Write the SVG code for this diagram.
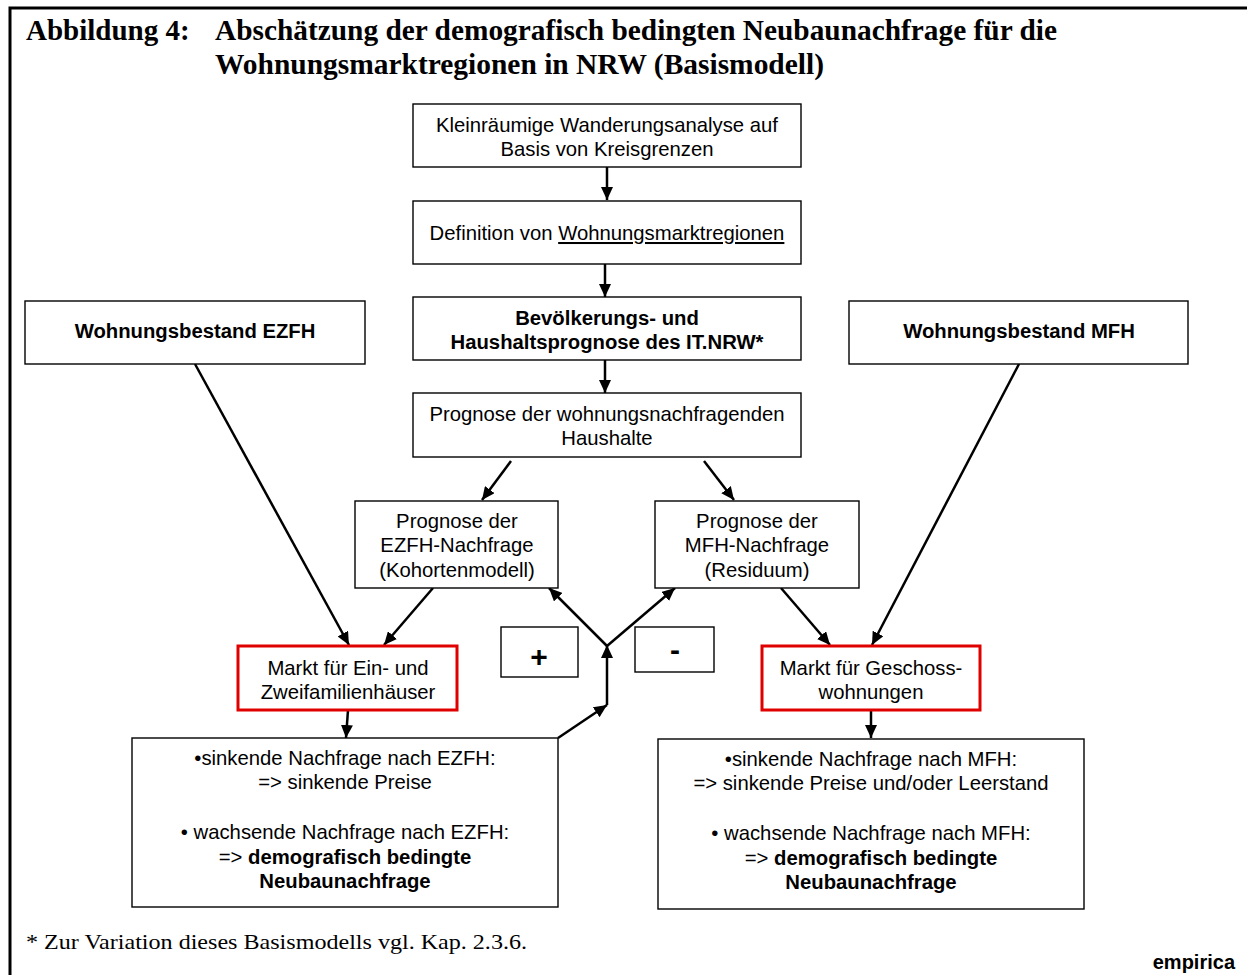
<svg xmlns="http://www.w3.org/2000/svg" width="1247" height="975" viewBox="0 0 1247 975">
<defs>
<marker id="ah" markerUnits="userSpaceOnUse" markerWidth="14" markerHeight="12" refX="13" refY="6" orient="auto">
<path d="M0,0 L13,6 L0,12 Z" fill="#000"/>
</marker>
</defs>
<style>
.box{fill:#fff;stroke:#000;stroke-width:1.4}
.red{fill:#fff;stroke:#e00000;stroke-width:3}
.t{font-family:"Liberation Sans",Arial,sans-serif;font-size:20.3px;fill:#000;text-anchor:middle}
.b{font-weight:bold}
.title{font-family:"Liberation Serif","Times New Roman",serif;font-size:29px;font-weight:bold;fill:#000}
.c{fill:none;stroke:#000;stroke-width:2.5}
</style>
<rect width="1247" height="975" fill="#fff"/>
<path d="M10,975 V8 H1247" fill="none" stroke="#000" stroke-width="3"/>
<g id="title">
<text class="title" x="26" y="40">Abbildung 4:</text>
<text class="title" x="215" y="40" textLength="842" lengthAdjust="spacingAndGlyphs">Abschätzung der demografisch bedingten Neubaunachfrage für die</text>
<text class="title" x="215" y="74" textLength="609" lengthAdjust="spacingAndGlyphs">Wohnungsmarktregionen in NRW (Basismodell)</text>
</g>
<g id="connectors">
<line class="c" x1="607" y1="167" x2="607" y2="200" marker-end="url(#ah)"/>
<line class="c" x1="605" y1="264" x2="605" y2="297" marker-end="url(#ah)"/>
<line class="c" x1="605" y1="360" x2="605" y2="393" marker-end="url(#ah)"/>
<line class="c" x1="511" y1="461" x2="482" y2="500" marker-end="url(#ah)"/>
<line class="c" x1="704" y1="461" x2="734" y2="500" marker-end="url(#ah)"/>
<line class="c" x1="195" y1="364" x2="349" y2="645" marker-end="url(#ah)"/>
<line class="c" x1="433" y1="588" x2="384" y2="645" marker-end="url(#ah)"/>
<line class="c" x1="1019" y1="364" x2="872" y2="645" marker-end="url(#ah)"/>
<line class="c" x1="781" y1="588" x2="830" y2="645" marker-end="url(#ah)"/>
<line class="c" x1="348" y1="710" x2="346" y2="738" marker-end="url(#ah)"/>
<line class="c" x1="871" y1="710" x2="871" y2="738" marker-end="url(#ah)"/>
<line class="c" x1="558" y1="738" x2="607" y2="705" marker-end="url(#ah)"/>
<line class="c" x1="607" y1="705" x2="607" y2="645" marker-end="url(#ah)"/>
<line class="c" x1="607" y1="646" x2="549" y2="588" marker-end="url(#ah)"/>
<line class="c" x1="607" y1="646" x2="675" y2="588" marker-end="url(#ah)"/>
</g>
<g id="n1">
<rect class="box" x="413" y="104" width="388" height="63"/>
<text class="t" x="607" y="132">Kleinräumige Wanderungsanalyse auf</text>
<text class="t" x="607" y="156">Basis von Kreisgrenzen</text>
</g>
<g id="n2">
<rect class="box" x="413" y="201" width="388" height="63"/>
<text class="t" x="607" y="240">Definition von <tspan text-decoration="underline">Wohnungsmarktregionen</tspan></text>
</g>
<g id="n3">
<rect class="box" x="413" y="297" width="388" height="63"/>
<text class="t b" x="607" y="325">Bevölkerungs- und</text>
<text class="t b" x="607" y="349">Haushaltsprognose des IT.NRW*</text>
</g>
<g id="n4">
<rect class="box" x="413" y="393" width="388" height="64"/>
<text class="t" x="607" y="421">Prognose der wohnungsnachfragenden</text>
<text class="t" x="607" y="445">Haushalte</text>
</g>
<g id="n5">
<rect class="box" x="25" y="301" width="340" height="63"/>
<text class="t b" x="195" y="338">Wohnungsbestand EZFH</text>
</g>
<g id="n6">
<rect class="box" x="849" y="301" width="339" height="63"/>
<text class="t b" x="1019" y="338">Wohnungsbestand MFH</text>
</g>
<g id="n7">
<rect class="box" x="355" y="501" width="203" height="87"/>
<text class="t" x="457" y="528">Prognose der</text>
<text class="t" x="457" y="552">EZFH-Nachfrage</text>
<text class="t" x="457" y="577">(Kohortenmodell)</text>
</g>
<g id="n8">
<rect class="box" x="655" y="501" width="204" height="87"/>
<text class="t" x="757" y="528">Prognose der</text>
<text class="t" x="757" y="552">MFH-Nachfrage</text>
<text class="t" x="757" y="577">(Residuum)</text>
</g>
<g id="n9">
<rect class="red" x="238" y="646" width="219" height="64"/>
<text class="t" x="348" y="675">Markt für Ein- und</text>
<text class="t" x="348" y="699">Zweifamilienhäuser</text>
</g>
<g id="n10">
<rect class="red" x="762" y="646" width="218" height="64"/>
<text class="t" x="871" y="675">Markt für Geschoss-</text>
<text class="t" x="871" y="699">wohnungen</text>
</g>
<g id="plus">
<rect class="box" x="501" y="627" width="77" height="50"/>
<text class="t b" x="539" y="667" style="font-size:30px">+</text>
</g>
<g id="minus">
<rect class="box" x="635" y="627" width="79" height="45"/>
<text class="t b" x="675" y="660" style="font-size:30px">-</text>
</g>
<g id="n11">
<rect class="box" x="132" y="738" width="426" height="169"/>
<text class="t" x="345" y="765">•sinkende Nachfrage nach EZFH:</text>
<text class="t" x="345" y="789">=&gt; sinkende Preise</text>
<text class="t" x="345" y="839">• wachsende Nachfrage nach EZFH:</text>
<text class="t" x="345" y="864">=&gt; <tspan font-weight="bold">demografisch bedingte</tspan></text>
<text class="t b" x="345" y="888">Neubaunachfrage</text>
</g>
<g id="n12">
<rect class="box" x="658" y="739" width="426" height="170"/>
<text class="t" x="871" y="766">•sinkende Nachfrage nach MFH:</text>
<text class="t" x="871" y="790">=&gt; sinkende Preise und/oder Leerstand</text>
<text class="t" x="871" y="840">• wachsende Nachfrage nach MFH:</text>
<text class="t" x="871" y="865">=&gt; <tspan font-weight="bold">demografisch bedingte</tspan></text>
<text class="t b" x="871" y="889">Neubaunachfrage</text>
</g>
<g id="footer">
<text x="26" y="949" font-family="Liberation Serif,Times New Roman,serif" font-size="21" textLength="501" lengthAdjust="spacingAndGlyphs">* Zur Variation dieses Basismodells vgl. Kap. 2.3.6.</text>
<text x="1235" y="969" font-family="Liberation Sans,Arial,sans-serif" font-size="20" font-weight="bold" text-anchor="end">empirica</text>
</g>
</svg>
